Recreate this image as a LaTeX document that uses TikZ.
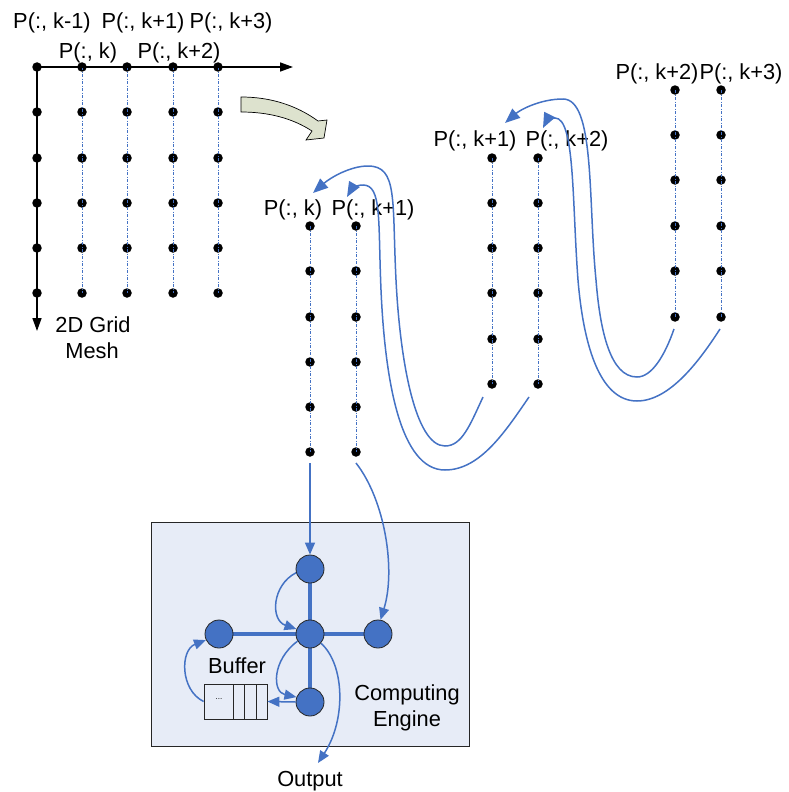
\documentclass[tikz,border=0pt]{standalone}
\usepackage{fontspec}
\setmainfont{Liberation Sans}
\usetikzlibrary{arrows.meta}
\definecolor{ublue}{HTML}{4472C4}
\definecolor{boxfill}{HTML}{E7ECF7}
\definecolor{arrfill}{HTML}{DDE2CE}
\pgfdeclarelayer{bg}
\pgfsetlayers{bg,main}
\begin{document}
\begin{tikzpicture}[x=1pt,y=-1pt,
  dot/.style={circle,fill=black,inner sep=0pt,minimum size=9.5pt},
  lbl/.style={font=\fontsize{21.8}{25}\selectfont,inner sep=0pt,anchor=base},
  colline/.style={ublue,line width=0.6pt,dash pattern=on 3pt off 1.5pt on 1pt off 1.5pt},
  axis/.style={black,line width=1.5pt,-{Triangle[length=13pt,width=9pt]}},
  flow/.style={ublue,line width=1.5pt,-{Triangle[length=15pt,width=12pt]}},
  eflow/.style={ublue,line width=1.5pt,-{Triangle[length=12pt,width=10pt]}},
  enode/.style={circle,fill=ublue,draw=black!85,line width=0.8pt,minimum size=28pt,inner sep=0pt},
  buffbox/.style={draw=black!85,line width=0.8pt,fill=boxfill,minimum width=63pt,minimum height=35pt,inner sep=0pt}
]
\useasboundingbox (0,0) rectangle (788,792);

% ---------- left grid ----------
\foreach \c/\x in {0/37,1/82,2/127,3/173,4/218}{
  \foreach \r/\y in {0/67,1/112,2/158,3/203,4/248,5/293}{
    \node[dot] (L\c\r) at (\x,\y) {};
  }
}
\foreach \c in {1,...,4}{ \draw[colline] (L\c0.center) -- (L\c5.center); }
\coordinate (xend) at (293,67);
\coordinate (yend) at (37,331);
\draw[axis] (L00.center) -- (xend);
\draw[axis] (L00.center) -- (yend);

\node[lbl] (t1) at (52,28.5) {P(:, k-1)};
\node[lbl] (t2) at (143,28.5) {P(:, k+1)};
\node[lbl] (t3) at (231,28.5) {P(:, k+3)};
\node[lbl] (t4) at (88,58.5) {P(:, k)};
\node[lbl] (t5) at (179,58.5) {P(:, k+2)};
\node[lbl] (m1) at (93,332) {2D Grid};
\node[lbl] (m2) at (92,358) {Mesh};

% ---------- block arrow ----------
\draw[black,line width=0.7pt,fill=arrfill]
  (241,97) .. controls (270,97) and (296,105) .. (318,121) -- (327,120) -- (324,138)
  -- (306,140) -- (312,131) .. controls (292,118) and (268,112) .. (241,112) -- cycle;

% ---------- right groups ----------
\foreach \c/\x in {0/310,1/356}{
  \foreach \r/\y in {0/226,1/271,2/317,3/362,4/407,5/452}{ \node[dot] (A\c\r) at (\x,\y) {}; }
  \draw[colline] (A\c0.center) -- (A\c5.center);
}
\foreach \c/\x in {0/492,1/538}{
  \foreach \r/\y in {0/158,1/203,2/248,3/293,4/339,5/384}{ \node[dot] (B\c\r) at (\x,\y) {}; }
  \draw[colline] (B\c0.center) -- (B\c5.center);
}
\foreach \c/\x in {0/675,1/721}{
  \foreach \r/\y in {0/90,1/135,2/180,3/226,4/271,5/317}{ \node[dot] (C\c\r) at (\x,\y) {}; }
  \draw[colline] (C\c0.center) -- (C\c5.center);
}
\node[lbl] (la0) at (293,215) {P(:, k)};
\node[lbl] (la1) at (373,215) {P(:, k+1)};
\node[lbl] (lb0) at (475,146.5) {P(:, k+1)};
\node[lbl] (lb1) at (567,146.5) {P(:, k+2)};
\node[lbl] (lc0) at (657,79) {P(:, k+2)};
\node[lbl] (lc1) at (741,79) {P(:, k+3)};

% ---------- serpentine flows ----------
\coordinate (a0) at (483,397); \coordinate (a1) at (313,193);
\coordinate (b0) at (529,397); \coordinate (b1) at (347,197);
\coordinate (c0) at (674,329); \coordinate (c1) at (505,123);
\coordinate (d0) at (720,329); \coordinate (d1) at (543,128);
\draw[flow] (a0) .. controls (470,425) and (462,446) .. (445,446)
  .. controls (415,446) and (400,360) .. (396,280)
  .. controls (392,200) and (398,166) .. (368,166)
  .. controls (350,166) and (330,178) .. (a1);
\draw[flow] (b0) .. controls (505,432) and (480,470) .. (445,470)
  .. controls (400,470) and (385,380) .. (381,290)
  .. controls (378,220) and (382,185) .. (363,185)
  .. controls (355,185) and (351,190) .. (b1);
\draw[flow] (c0) .. controls (665,355) and (652,377) .. (637,377)
  .. controls (610,377) and (600,330) .. (596,280)
  .. controls (588,200) and (595,99) .. (563,99)
  .. controls (540,99) and (520,110) .. (c1);
\draw[flow] (d0) .. controls (700,360) and (670,401) .. (637,401)
  .. controls (598,401) and (583,340) .. (578,280)
  .. controls (572,200) and (575,118) .. (555,118)
  .. controls (550,118) and (546,122) .. (d1);

% ---------- computing engine ----------
\node[enode] (etop) at (310,569) {};
\node[enode] (ectr) at (310,634) {};
\node[enode] (eleft) at (219,634) {};
\node[enode] (eright) at (378,634) {};
\node[enode] (ebot) at (310,702) {};
\node[buffbox] (buf) at (235.5,701.5) {};
\begin{pgfonlayer}{bg}
  \draw[black!85,line width=0.8pt,fill=boxfill] (151,522) rectangle (469,746);
  \draw[ublue,line width=4pt] (etop.center) -- (ebot.center);
  \draw[ublue,line width=4pt] (eleft.center) -- (eright.center);
\end{pgfonlayer}
\draw[black!85,line width=0.8pt] (233,684) -- (233,719) (244,684) -- (244,719) (256,684) -- (256,719);
\node[font=\fontsize{8}{9}\selectfont,inner sep=0pt] (dots) at (219,699) {...};

\node[lbl] (bufl) at (237,673) {Buffer};
\node[lbl] (ce1) at (407,700) {Computing};
\node[lbl] (ce2) at (407,726) {Engine};
\node[lbl] (outl) at (310,786) {Output};

\coordinate (s0) at (310,463);
\coordinate (s1) at (356,463);
\coordinate (outtip) at (318,763);
\draw[eflow] (s0) -- (etop.north);
\draw[eflow] (s1) .. controls (385,500) and (396,570) .. (eright.80);
\draw[eflow] (etop.195) .. controls (272,585) and (270,620) .. (ectr.160);
\draw[eflow] (ectr.210) .. controls (272,660) and (272,692) .. (ebot.160);
\draw[eflow] (ebot.west) -- (buf.east);
\draw[eflow] (buf.west) .. controls (180,690) and (180,650) .. (eleft.205);
\draw[eflow] (ectr.-40) .. controls (345,665) and (346,720) .. (outtip);
\end{tikzpicture}
\end{document}
